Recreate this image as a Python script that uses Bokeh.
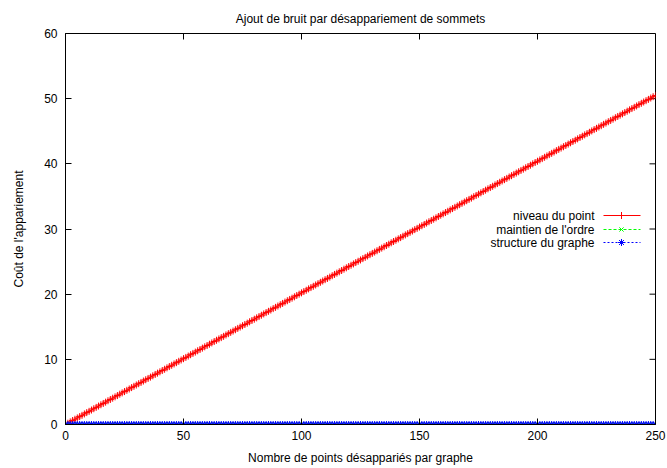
from bokeh.plotting import figure
from bokeh.models import Range1d, FixedTicker, Label
from bokeh.embed import file_html
from bokeh.resources import INLINE

# ---------------- data ----------------
x_points = list(range(0, 251))

niveau_du_point = [
    0.00, 0.20, 0.40, 0.61, 0.81, 1.01, 1.21, 1.41, 1.62, 1.82,
    2.02, 2.22, 2.42, 2.63, 2.83, 3.03, 3.23, 3.43, 3.64, 3.84,
    4.04, 4.24, 4.44, 4.65, 4.85, 5.05, 5.25, 5.45, 5.66, 5.86,
    6.06, 6.26, 6.46, 6.67, 6.87, 7.07, 7.27, 7.47, 7.68, 7.88,
    8.08, 8.28, 8.48, 8.69, 8.89, 9.09, 9.29, 9.49, 9.70, 9.90,
    10.10, 10.30, 10.50, 10.71, 10.91, 11.11, 11.31, 11.51, 11.72, 11.92,
    12.12, 12.32, 12.52, 12.73, 12.93, 13.13, 13.33, 13.53, 13.74, 13.94,
    14.14, 14.34, 14.54, 14.75, 14.95, 15.15, 15.35, 15.55, 15.76, 15.96,
    16.16, 16.36, 16.56, 16.77, 16.97, 17.17, 17.37, 17.57, 17.78, 17.98,
    18.18, 18.38, 18.58, 18.79, 18.99, 19.19, 19.39, 19.59, 19.80, 20.00,
    20.20, 20.40, 20.60, 20.81, 21.01, 21.21, 21.41, 21.61, 21.82, 22.02,
    22.22, 22.42, 22.62, 22.83, 23.03, 23.23, 23.43, 23.63, 23.84, 24.04,
    24.24, 24.44, 24.64, 24.85, 25.05, 25.25, 25.45, 25.65, 25.86, 26.06,
    26.26, 26.46, 26.66, 26.87, 27.07, 27.27, 27.47, 27.67, 27.88, 28.08,
    28.28, 28.48, 28.68, 28.89, 29.09, 29.29, 29.49, 29.69, 29.90, 30.10,
    30.30, 30.50, 30.70, 30.91, 31.11, 31.31, 31.51, 31.71, 31.92, 32.12,
    32.32, 32.52, 32.72, 32.93, 33.13, 33.33, 33.53, 33.73, 33.94, 34.14,
    34.34, 34.54, 34.74, 34.95, 35.15, 35.35, 35.55, 35.75, 35.96, 36.16,
    36.36, 36.56, 36.76, 36.97, 37.17, 37.37, 37.57, 37.77, 37.98, 38.18,
    38.38, 38.58, 38.78, 38.99, 39.19, 39.39, 39.59, 39.79, 40.00, 40.20,
    40.40, 40.60, 40.80, 41.01, 41.21, 41.41, 41.61, 41.81, 42.02, 42.22,
    42.42, 42.62, 42.82, 43.03, 43.23, 43.43, 43.63, 43.83, 44.04, 44.24,
    44.44, 44.64, 44.84, 45.05, 45.25, 45.45, 45.65, 45.85, 46.06, 46.26,
    46.46, 46.66, 46.86, 47.07, 47.27, 47.47, 47.67, 47.87, 48.08, 48.28,
    48.48, 48.68, 48.88, 49.09, 49.29, 49.49, 49.69, 49.89, 50.10, 50.30,
    50.50,
]
maintien_de_l_ordre = [0.0] * 251
structure_du_graphe = [0.0] * 251

x_ticks = [0, 50, 100, 150, 200, 250]
y_ticks = [0, 10, 20, 30, 40, 50, 60]
series_labels = ["niveau du point", "maintien de l'ordre", "structure du graphe"]
series_colors = ["#ff0000", "#00ff00", "#0000ff"]
series_markers = ["cross", "x", "asterisk"]
series_dashes = ["solid", "3 2", "2 2"]
series_sizes = [7, 6, 7]

FONT = "Liberation Sans"
X_MIN, X_MAX = 0, 250
Y_MIN, Y_MAX = 0, 60
FRAME_W, FRAME_H = 590, 391
TICK_PX = 6

# ---------------- figure ----------------
p = figure(
    frame_width=FRAME_W, frame_height=FRAME_H,
    x_range=Range1d(X_MIN, X_MAX), y_range=Range1d(Y_MIN, Y_MAX),
    output_backend="svg", toolbar_location=None,
    title="Ajout de bruit par désappariement de sommets",
    x_axis_label="Nombre de points désappariés par graphe",
    y_axis_label="Coût de l'appariement",
    min_border_left=65, min_border_right=12, min_border_top=33, min_border_bottom=40,
    background_fill_color="white", border_fill_color="white",
)
p.grid.visible = False
p.outline_line_color = "black"
p.outline_line_width = 1

p.title.align = "center"
p.title.text_font = FONT
p.title.text_font_size = "12px"
p.title.text_font_style = "normal"
p.title.text_color = "black"
p.title.standoff = 16

def style_axis(ax, ticks):
    ax.ticker = FixedTicker(ticks=ticks)
    ax.major_tick_in = TICK_PX
    ax.major_tick_out = 0
    ax.minor_tick_in = 0
    ax.minor_tick_out = 0
    ax.axis_line_color = "black"
    ax.major_tick_line_color = "black"
    ax.major_label_text_font = FONT
    ax.major_label_text_font_size = "12px"
    ax.major_label_text_color = "black"
    ax.axis_label_text_font = FONT
    ax.axis_label_text_font_size = "12px"
    ax.axis_label_text_font_style = "normal"
    ax.axis_label_text_color = "black"

style_axis(p.xaxis[0], x_ticks)
style_axis(p.yaxis[0], y_ticks)
p.xaxis[0].major_label_standoff = 6
p.xaxis[0].axis_label_standoff = 8
p.yaxis[0].major_label_standoff = 8
p.yaxis[0].axis_label_standoff = 15

# helpers converting frame pixel offsets (from bottom-left) to data coordinates
def fx(px):
    return X_MIN + px * (X_MAX - X_MIN) / FRAME_W

def fy(px):
    return Y_MIN + px * (Y_MAX - Y_MIN) / FRAME_H

# mirrored inward ticks on the top and right edges
p.segment(x0=x_ticks, y0=[Y_MAX] * len(x_ticks), x1=x_ticks,
          y1=[Y_MAX - fy(TICK_PX) + Y_MIN] * len(x_ticks), line_color="black", line_width=1)
p.segment(x0=[X_MAX] * len(y_ticks), y0=y_ticks, x1=[X_MAX - fx(TICK_PX) + X_MIN] * len(y_ticks),
          y1=y_ticks, line_color="black", line_width=1)

# ---------------- series ----------------
series_values = [niveau_du_point, maintien_de_l_ordre, structure_du_graphe]
for vals, col, mk, dash, sz in zip(series_values, series_colors, series_markers, series_dashes, series_sizes):
    p.line(x_points, vals, line_color=col, line_width=1, line_dash=dash)
    p.scatter(x_points, vals, marker=mk, size=sz, line_color=col, line_width=1)

# ---------------- gnuplot-style key (text left, sample right) ----------------
key_text_px = 529
key_line_px = (538, 575)
key_mark_px = 556
key_rows_px = [209, 195, 182]

for lab, col, mk, dash, sz, yy in zip(series_labels, series_colors, series_markers,
                                      series_dashes, series_sizes, key_rows_px):
    p.add_layout(Label(x=key_text_px, y=yy, x_units="screen", y_units="screen", text=lab,
                       text_align="right", text_baseline="middle",
                       text_font=FONT, text_font_size="12px", text_color="black"))
    p.line([fx(key_line_px[0]), fx(key_line_px[1])], [fy(yy), fy(yy)],
           line_color=col, line_width=1, line_dash=dash)
    p.scatter([fx(key_mark_px)], [fy(yy)], marker=mk, size=sz, line_color=col, line_width=1)

open("out.html", "w").write(file_html(p, INLINE))
